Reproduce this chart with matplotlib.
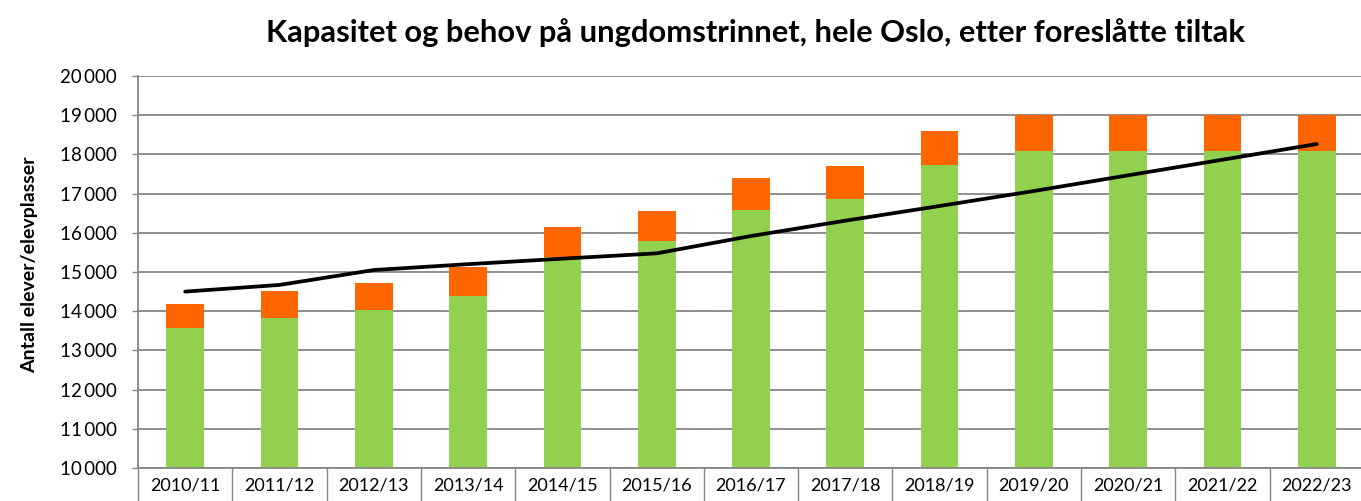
import matplotlib
matplotlib.use("Agg")
import matplotlib.pyplot as plt
from matplotlib.ticker import FixedLocator, FuncFormatter
import numpy as np

categories = ["2010/11", "2011/12", "2012/13", "2013/14", "2014/15", "2015/16", "2016/17",
              "2017/18", "2018/19", "2019/20", "2020/21", "2021/22", "2022/23"]
kapasitet = [13570, 13830, 14030, 14390, 15390, 15790, 16580, 16860, 17730, 18090, 18090, 18090, 18090]
tiltak = [610, 680, 690, 740, 760, 770, 820, 840, 870, 910, 910, 910, 910]
behov = [14500, 14670, 15050, 15200, 15340, 15476, 15918, 16309, 16684, 17066, 17467, 17865, 18265]
y_ticks = list(range(10000, 20001, 1000))

title = "Kapasitet og behov på ungdomstrinnet, hele Oslo, etter foreslåtte tiltak"
ylabel = "Antall elever/elevplasser"

plt.rcParams['font.family'] = ['Lato', 'DejaVu Sans']

W, H = 1361, 501
fig = plt.figure(figsize=(W / 100, H / 100), dpi=100)
ax = fig.add_axes([138 / W, 1 - 468 / H, (1364 - 138) / W, (468 - 76) / H])

x = np.arange(len(categories))
green = "#92D050"
orange = "#FF6600"
grid = "#868686"

ax.bar(x, kapasitet, width=0.40, color=green, zorder=2)
ax.bar(x, tiltak, width=0.40, bottom=kapasitet, color=orange, zorder=2)
ax.plot(x, behov, color="black", lw=2.7, solid_capstyle="round", solid_joinstyle="round", zorder=3)

ax.set_xlim(-0.5, len(categories) - 0.5)
ax.set_ylim(10000, 20000)
ax.set_yticks(y_ticks)
ax.yaxis.set_major_formatter(FuncFormatter(lambda v, p: f"{int(v):,}".replace(",", "\u2009")))
ax.yaxis.grid(True, color=grid, lw=1.3, zorder=0)
ax.set_axisbelow(True)

ax.set_xticks(x)
ax.set_xticklabels(categories)
ax.xaxis.set_minor_locator(FixedLocator(np.arange(-0.5, len(categories), 1.0)))
ax.tick_params(axis="x", which="major", length=0, pad=7, labelsize=13)
ax.tick_params(axis="x", which="minor", length=24, width=1, color=grid, direction="out")
ax.tick_params(axis="y", which="major", length=4, width=1, color=grid, labelsize=13.5, pad=11)

for s in ["top", "right"]:
    ax.spines[s].set_visible(False)
for s in ["left", "bottom"]:
    ax.spines[s].set_color(grid)
    ax.spines[s].set_linewidth(1.3)

fig.text(30 / W, 1 - 265 / H, ylabel, rotation=90, ha="center", va="center",
         fontsize=14, fontweight="bold")
fig.text(755 / W, 1 - 33 / H, title, ha="center", va="center", fontsize=22.2, fontweight="bold")

fig.savefig("out.png", dpi=100)
